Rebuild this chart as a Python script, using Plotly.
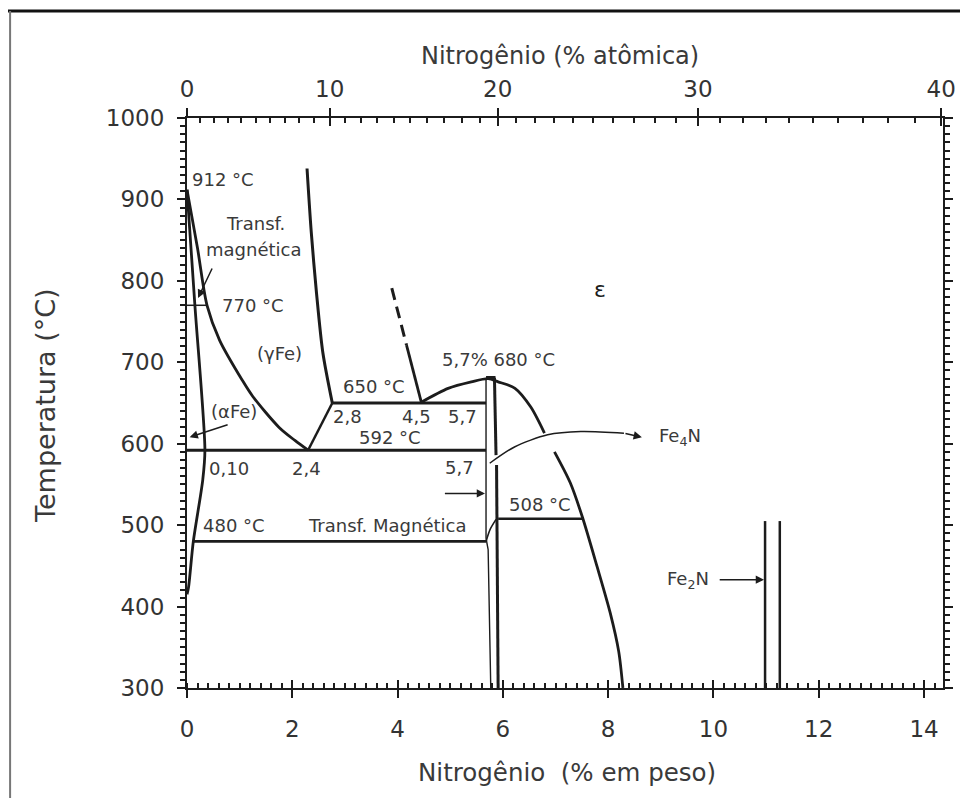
import plotly.graph_objects as go

# ---------------- data (wt% N , temperature °C) ----------------
gamma_x = [0.0, 0.2, 0.38, 0.62, 1.05, 1.25, 1.75, 2.05, 2.3]
gamma_t = [912, 840, 770, 727, 678, 658, 620, 604, 592]

alpha_x = [0.0, 0.15, 0.34, 0.30, 0.12, 0.03, 0.0]
alpha_t = [912, 770, 592, 556, 480, 424, 415]

gam_eps_x = [2.28, 2.36, 2.46, 2.58, 2.76]
gam_eps_t = [938, 860, 785, 712, 650]

eut_link_x = [2.3, 2.76]
eut_link_t = [592, 650]

dash_x = [3.89, 4.17]
dash_t = [791, 721]
solid_x = [4.17, 4.45]
solid_t = [721, 651]

cap_x = [4.45, 4.96, 5.40, 5.72, 5.91, 6.23, 6.53, 6.79]
cap_t = [651, 668, 676, 680, 676, 668, 645, 613]

eps_x = [6.98, 7.28, 7.51, 7.79, 8.04, 8.20, 8.28]
eps_t = [590, 552, 510, 449, 392, 345, 300]

# isotherms: (x_start, x_end, T)
iso_592 = [0.0, 5.68, 592]
iso_650 = [2.76, 5.68, 650]
iso_480 = [0.12, 5.68, 480]
iso_508 = [5.91, 7.53, 508]
iso_770 = [0.0, 0.38, 770]

# gamma' (Fe4N) band
gp_thin_x = [5.68, 5.68, 5.72, 5.77]
gp_thin_t = [680, 484, 470, 300]
gp_link_x = [5.68, 5.76, 5.87]
gp_link_t = [480, 495, 507]
gp_thick1_x = [5.84, 5.87]
gp_thick1_t = [681, 586]
gp_thick2_x = [5.88, 5.91]
gp_thick2_t = [574, 300]
gp_cap_x = [5.68, 5.86]
gp_cap_t = [681, 681]

# Fe2N lines
fe2n_x = [10.98, 11.26]
fe2n_t = [300, 505]

# Fe4N pointer curve
fe4n_x = [5.75, 6.22, 6.85, 7.48, 8.30]
fe4n_t = [576, 596, 611, 615, 613]

# top axis: atomic %
at_labels = [0, 10, 20, 30, 40]
M_N, M_FE = 14.007, 55.845


def at_to_wt(a):
    return 100.0 * M_N * a / (M_N * a + M_FE * (100 - a))


wt_ticks = [0, 2, 4, 6, 8, 10, 12, 14]
XMAX = 14.36

INK = "#1c1c1c"
TXT = "#3a3a3a"
FONT = "DejaVu Sans"

fig = go.Figure()


def line(x, y, w=3.0, dash=None, color=INK, shape="linear"):
    fig.add_trace(go.Scatter(x=x, y=y, mode="lines", hoverinfo="skip", showlegend=False,
                             line=dict(color=color, width=w, dash=dash, shape=shape, smoothing=0.8)))


line(gamma_x, gamma_t, 2.8, shape="spline")
line(alpha_x, alpha_t, 2.8, shape="spline")
line(gam_eps_x, gam_eps_t, 3, shape="spline")
line(eut_link_x, eut_link_t, 2.5)
line(dash_x, dash_t, 3, dash="12px,7px")
line(solid_x, solid_t, 2.8)
line(cap_x, cap_t, 2.8, shape="spline")
line(eps_x, eps_t, 2.8, shape="spline")
for iso, w in [(iso_592, 2.8), (iso_650, 2.8), (iso_480, 2.8), (iso_508, 2.5), (iso_770, 1.5)]:
    line([iso[0], iso[1]], [iso[2], iso[2]], w)
line(gp_thin_x, gp_thin_t, 1.4)
line(gp_link_x, gp_link_t, 1.6, shape="spline")
line(gp_thick1_x, gp_thick1_t, 3)
line(gp_thick2_x, gp_thick2_t, 3)
line(gp_cap_x, gp_cap_t, 3.5)
for fx in fe2n_x:
    line([fx, fx], fe2n_t, 2.5)
line(fe4n_x, fe4n_t, 1.5, shape="spline")

# dummy traces so the extra axes are drawn
for xa in ["x2", "x3", "x4"]:
    fig.add_trace(go.Scatter(x=[None], y=[None], xaxis=xa, yaxis="y", showlegend=False, hoverinfo="skip"))

# ---------------- text labels ----------------
labels = [
    ("912 °C", 0.06, 924, "left"),
    ("Transf.", 1.30, 871, "center"),
    ("magnética", 1.27, 838, "center"),
    ("770 °C", 0.62, 770, "left"),
    ("(γFe)", 1.75, 711, "center"),
    ("(αFe)", 0.89, 639, "center"),
    ("650 °C", 3.55, 670, "center"),
    ("2,8", 3.04, 633, "center"),
    ("4,5", 4.36, 633, "center"),
    ("5,7", 5.23, 633, "center"),
    ("592 °C", 3.86, 608, "center"),
    ("0,10", 0.79, 570, "center"),
    ("2,4", 2.27, 570, "center"),
    ("5,7", 5.17, 571, "center"),
    ("480 °C", 0.90, 500, "center"),
    ("Transf. Magnética", 3.80, 500, "center"),
    ("508 °C", 6.70, 525, "center"),
    ("5,7% 680 °C", 5.92, 703, "center"),
    ("Fe<sub>4</sub>N", 8.92, 608, "left"),
    ("Fe<sub>2</sub>N", 9.96, 433, "right"),
]
for txt, x, y, anc in labels:
    fig.add_annotation(x=x, y=y, text=txt, showarrow=False, xanchor=anc, yanchor="middle",
                       font=dict(family=FONT, size=18, color=TXT))
fig.add_annotation(x=7.85, y=789, text="ε", showarrow=False, yanchor="middle",
                   font=dict(family=FONT, size=22, color=INK))

# arrows: (head_x, head_T, tail_x, tail_T)
arrows = [
    (0.21, 779, 0.49, 817),
    (0.05, 608, 0.80, 624),
    (5.66, 539, 4.87, 539),
    (10.96, 433, 10.09, 433),
    (8.64, 608, 8.30, 613),
]
for hx, hy, tx, ty in arrows:
    fig.add_annotation(x=hx, y=hy, ax=tx, ay=ty, axref="x", ayref="y", text="",
                       showarrow=True, arrowhead=2, arrowsize=1.1, arrowwidth=1.5, arrowcolor=INK)

# axis titles
fig.add_annotation(xref="paper", yref="paper", x=0.494, y=1.108, text="Nitrogênio (% atômica)",
                   xanchor="center", yanchor="middle",
                   showarrow=False, font=dict(family=FONT, size=24, color=TXT))
fig.add_annotation(xref="paper", yref="paper", x=0.503, y=-0.149, text="Nitrogênio\u00a0 (% em peso)",
                   xanchor="center", yanchor="middle",
                   showarrow=False, font=dict(family=FONT, size=24.5, color=TXT))
fig.add_annotation(xref="paper", yref="paper", x=-0.1866, y=0.4965, text="Temperatura (°C)",
                   xanchor="center", yanchor="middle",
                   textangle=-90, showarrow=False, font=dict(family=FONT, size=27, color=TXT))

# frame of the scanned page
fig.add_shape(type="line", xref="paper", yref="paper", x0=-0.26, x1=1.04, y0=1.1877, y1=1.1877,
              line=dict(color="#111", width=3))
fig.add_shape(type="line", xref="paper", yref="paper", x0=-0.2340, x1=-0.2340, y0=1.1877, y1=-0.21,
              line=dict(color="#777", width=2))

tickfont = dict(family=FONT, size=23, color="#333")
at_minor = [at_to_wt(a) for a in range(1, 41) if a % 10 != 0]

# page body adds an 8 px offset, so the figure is 8 px smaller and margins shifted
fig.update_layout(
    width=960, height=790,
    margin=dict(l=179, r=20, t=110, b=110),
    paper_bgcolor="white", plot_bgcolor="white",
    showlegend=False,
    xaxis=dict(range=[0, XMAX], tickmode="array", tickvals=wt_ticks, ticks="outside", ticklen=8,
               tickwidth=2, tickcolor=INK, showline=True, linewidth=2, linecolor=INK, showgrid=False,
               zeroline=False, tickfont=tickfont, ticklabelstandoff=11,
               minor=dict(dtick=0.2, tick0=0, ticks="inside", ticklen=5, tickwidth=1.5, tickcolor=INK,
                          showgrid=False)),
    xaxis3=dict(range=[0, XMAX], overlaying="x", anchor="y", side="bottom", tickmode="array",
                tickvals=wt_ticks, ticks="inside", ticklen=8, tickwidth=2, tickcolor=INK,
                showticklabels=False, showline=False, showgrid=False, zeroline=False),
    xaxis2=dict(range=[0, XMAX], overlaying="x", anchor="y", side="top", tickmode="array",
                tickvals=[at_to_wt(a) for a in at_labels], ticktext=[str(a) for a in at_labels],
                ticks="outside", ticklen=8, tickwidth=2, tickcolor=INK, showline=True, linewidth=2,
                linecolor=INK, showgrid=False, zeroline=False, tickfont=tickfont, ticklabelstandoff=2,
                minor=dict(tickmode="array", tickvals=at_minor, ticks="inside", ticklen=5, tickwidth=1.5,
                           tickcolor=INK, showgrid=False)),
    xaxis4=dict(range=[0, XMAX], overlaying="x", anchor="y", side="top", tickmode="array",
                tickvals=[at_to_wt(a) for a in at_labels], ticks="inside", ticklen=8, tickwidth=2,
                tickcolor=INK, showticklabels=False, showline=False, showgrid=False, zeroline=False),
    yaxis=dict(range=[300, 1000], dtick=100, tick0=300, ticks="outside", ticklen=8, tickwidth=2,
               tickcolor=INK, showline=True, linewidth=2, linecolor=INK, mirror="ticks", showgrid=False,
               zeroline=False, tickfont=tickfont, ticklabelstandoff=8,
               minor=dict(dtick=10, ticks="outside", ticklen=5, tickwidth=1.5, tickcolor=INK, showgrid=False)),
)

fig.write_html("out.html")
